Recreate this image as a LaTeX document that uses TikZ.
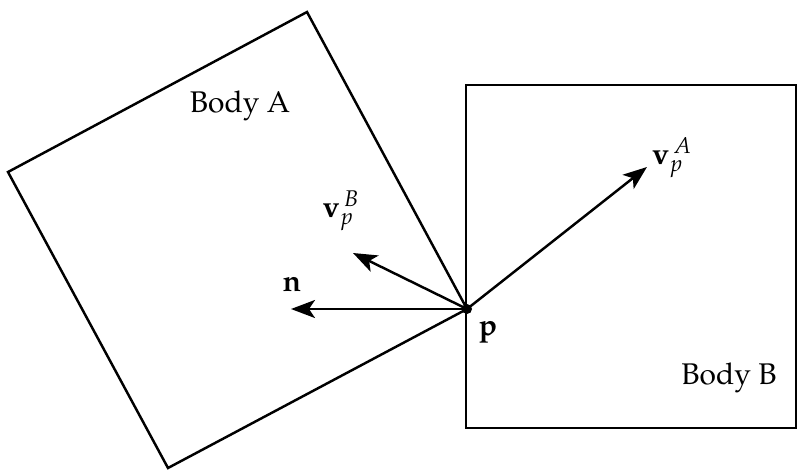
\documentclass[tikz,border=0pt]{standalone}
\usepackage[T1]{fontenc}
\usepackage{mathpazo}
\usepackage{tikz}
\usetikzlibrary{arrows.meta}

\tikzset{
  body/.style={line width=1.4pt,line join=miter},
  vec/.style={line width=1.4pt,-{Stealth[length=0.48cm,width=0.36cm,inset=0.12cm]}},
  lbl/.style={font=\fontsize{17}{20}\selectfont,inner sep=0pt}
}

\begin{document}
\begin{tikzpicture}[x=0.02cm,y=-0.02cm]
\useasboundingbox (0,0) rectangle (801,470);
% corners
\coordinate (p) at (467,309);
\coordinate (aTop) at (307,12);
\coordinate (aLeft) at (8,172);
\coordinate (aBot) at (168,468);
\coordinate (bTL) at (466,85);
\coordinate (bBR) at (796,428);
% bodies
\draw[body] (aTop) -- (aLeft) -- (aBot) -- (p) -- cycle;
\draw[body] (bTL) rectangle (bBR);
\node[lbl] (bodyA) at (240,106) {Body A};
\node[lbl] (bodyB) at (729,378) {Body B};
% vectors
\coordinate (vAtip) at (647,167);
\coordinate (vBtip) at (353,253);
\coordinate (ntip) at (291,309);
\draw[vec] (p) -- (vAtip);
\draw[vec] (p) -- (vBtip);
\draw[vec] (p) -- (ntip);
\fill (p) circle (5);
\node[lbl] (vA) at (672,158) {$\mathbf{v}_p^{\,A}$};
\node[lbl] (vB) at (341,211) {$\mathbf{v}_p^{\,B}$};
\node[lbl] (n) at (292,285) {$\mathbf{n}$};
\node[lbl] (plbl) at (488,332) {$\mathbf{p}$};
\end{tikzpicture}
\end{document}
